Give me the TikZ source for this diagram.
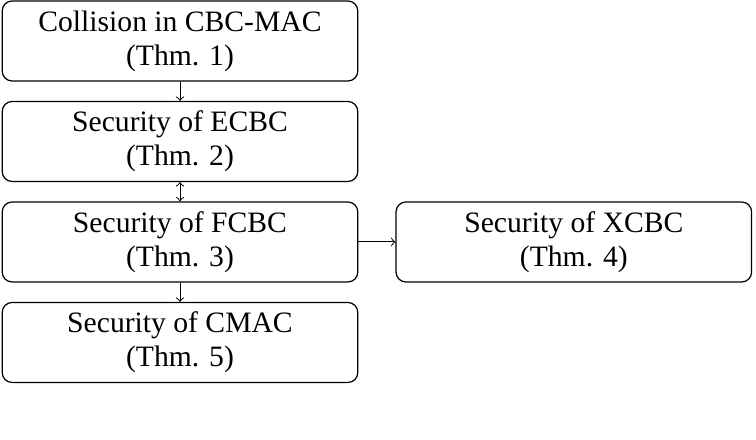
\documentclass[tikz,border=0pt]{standalone}
\usepackage{fontspec}
\setmainfont{Liberation Serif}
\usetikzlibrary{positioning}

\begin{document}
\begin{tikzpicture}[->, x=0.405pt, y=-0.405pt, node distance=7.8pt and 15pt,
    thm/.style={draw, rounded corners=4pt, line width=0.5pt, align=center,
      font=\fontsize{12}{13.8}\selectfont,
      minimum width=144pt, minimum height=32.4pt, inner sep=1pt}]
    \useasboundingbox (0,0) rectangle (756,440);
    \node [thm] (cbcmac) at (180,41)
      {
        Collision in CBC-MAC \\
        (Thm. 1)
      };
    \node [thm, below=of cbcmac] (ecbc)
      {
        Security of ECBC \\
        (Thm. 2)
      };
    \node [thm, below=of ecbc] (fcbc)
      {
        Security of FCBC \\
        (Thm. 3)
      };
    \node [thm, right=of fcbc] (xcbc)
      {
        Security of XCBC \\
        (Thm. 4)
      };
    \node [thm, below=of fcbc] (cmac)
      {
        Security of CMAC \\
        (Thm. 5)
      };
    \draw (cbcmac) -- (ecbc);
    \draw [<->] (ecbc) -- (fcbc);
    \draw (fcbc) -- (cmac);
    \draw (fcbc) -- (xcbc);
  \end{tikzpicture}
\end{document}
